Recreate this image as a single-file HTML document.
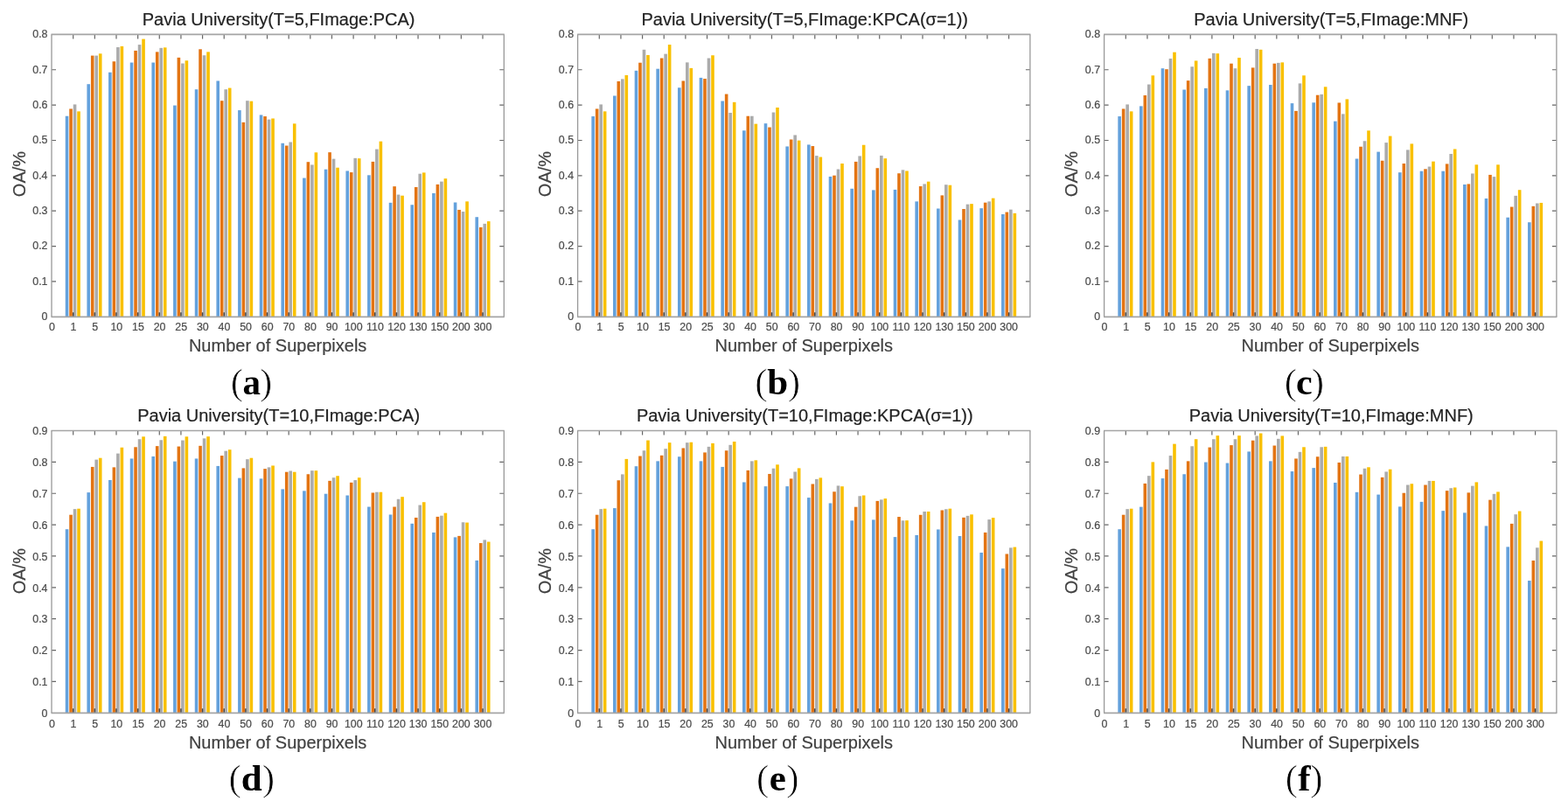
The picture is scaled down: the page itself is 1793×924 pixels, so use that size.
<!DOCTYPE html>
<html><head><meta charset="utf-8"><title>Pavia University OA charts</title><style>html,body{margin:0;padding:0;background:#fff;}svg{display:block;}</style></head><body>
<svg width="1793" height="924" viewBox="0 0 1793 924" font-family="Liberation Sans, Arial, sans-serif">
<rect width="1793" height="924" fill="#fff"/>
<rect x="74.75" y="132.73" width="3.6" height="229.57" fill="#64a1dc"/>
<rect x="79.25" y="124.45" width="3.6" height="237.85" fill="#e37413"/>
<rect x="83.75" y="119.42" width="3.6" height="242.88" fill="#ababab"/>
<rect x="88.25" y="127.37" width="3.6" height="234.93" fill="#f9c000"/>
<rect x="99.42" y="96.21" width="3.6" height="266.09" fill="#64a1dc"/>
<rect x="103.92" y="63.59" width="3.6" height="298.71" fill="#e37413"/>
<rect x="108.42" y="63.59" width="3.6" height="298.71" fill="#ababab"/>
<rect x="112.92" y="61.32" width="3.6" height="300.98" fill="#f9c000"/>
<rect x="124.08" y="82.74" width="3.6" height="279.56" fill="#64a1dc"/>
<rect x="128.58" y="70.25" width="3.6" height="292.05" fill="#e37413"/>
<rect x="133.08" y="54.02" width="3.6" height="308.28" fill="#ababab"/>
<rect x="137.58" y="52.88" width="3.6" height="309.42" fill="#f9c000"/>
<rect x="148.75" y="71.54" width="3.6" height="290.76" fill="#64a1dc"/>
<rect x="153.25" y="57.91" width="3.6" height="304.39" fill="#e37413"/>
<rect x="157.75" y="51.10" width="3.6" height="311.20" fill="#ababab"/>
<rect x="162.25" y="44.61" width="3.6" height="317.69" fill="#f9c000"/>
<rect x="173.42" y="71.54" width="3.6" height="290.76" fill="#64a1dc"/>
<rect x="177.92" y="59.37" width="3.6" height="302.93" fill="#e37413"/>
<rect x="182.42" y="54.83" width="3.6" height="307.47" fill="#ababab"/>
<rect x="186.92" y="54.34" width="3.6" height="307.96" fill="#f9c000"/>
<rect x="198.09" y="120.56" width="3.6" height="241.74" fill="#64a1dc"/>
<rect x="202.59" y="65.86" width="3.6" height="296.44" fill="#e37413"/>
<rect x="207.09" y="72.52" width="3.6" height="289.78" fill="#ababab"/>
<rect x="211.59" y="69.27" width="3.6" height="293.03" fill="#f9c000"/>
<rect x="222.76" y="102.22" width="3.6" height="260.08" fill="#64a1dc"/>
<rect x="227.26" y="56.29" width="3.6" height="306.01" fill="#e37413"/>
<rect x="231.76" y="63.27" width="3.6" height="299.03" fill="#ababab"/>
<rect x="236.26" y="59.37" width="3.6" height="302.93" fill="#f9c000"/>
<rect x="247.42" y="92.48" width="3.6" height="269.82" fill="#64a1dc"/>
<rect x="251.92" y="115.20" width="3.6" height="247.10" fill="#e37413"/>
<rect x="256.42" y="102.22" width="3.6" height="260.08" fill="#ababab"/>
<rect x="260.92" y="100.59" width="3.6" height="261.71" fill="#f9c000"/>
<rect x="272.09" y="126.07" width="3.6" height="236.23" fill="#64a1dc"/>
<rect x="276.59" y="139.87" width="3.6" height="222.43" fill="#e37413"/>
<rect x="281.09" y="115.20" width="3.6" height="247.10" fill="#ababab"/>
<rect x="285.59" y="115.69" width="3.6" height="246.61" fill="#f9c000"/>
<rect x="296.76" y="131.43" width="3.6" height="230.87" fill="#64a1dc"/>
<rect x="301.26" y="133.05" width="3.6" height="229.25" fill="#e37413"/>
<rect x="305.76" y="136.62" width="3.6" height="225.68" fill="#ababab"/>
<rect x="310.26" y="135.49" width="3.6" height="226.81" fill="#f9c000"/>
<rect x="321.43" y="163.78" width="3.6" height="198.52" fill="#64a1dc"/>
<rect x="325.93" y="166.54" width="3.6" height="195.76" fill="#e37413"/>
<rect x="330.43" y="162.48" width="3.6" height="199.82" fill="#ababab"/>
<rect x="334.93" y="141.37" width="3.6" height="220.93" fill="#f9c000"/>
<rect x="346.10" y="203.56" width="3.6" height="158.74" fill="#64a1dc"/>
<rect x="350.60" y="185.21" width="3.6" height="177.09" fill="#e37413"/>
<rect x="355.10" y="188.46" width="3.6" height="173.84" fill="#ababab"/>
<rect x="359.60" y="174.33" width="3.6" height="187.97" fill="#f9c000"/>
<rect x="370.76" y="193.66" width="3.6" height="168.64" fill="#64a1dc"/>
<rect x="375.26" y="174.17" width="3.6" height="188.13" fill="#e37413"/>
<rect x="379.76" y="181.64" width="3.6" height="180.66" fill="#ababab"/>
<rect x="384.26" y="191.71" width="3.6" height="170.59" fill="#f9c000"/>
<rect x="395.43" y="195.44" width="3.6" height="166.86" fill="#64a1dc"/>
<rect x="399.93" y="197.07" width="3.6" height="165.23" fill="#e37413"/>
<rect x="404.43" y="180.83" width="3.6" height="181.47" fill="#ababab"/>
<rect x="408.93" y="181.15" width="3.6" height="181.15" fill="#f9c000"/>
<rect x="420.10" y="200.32" width="3.6" height="161.98" fill="#64a1dc"/>
<rect x="424.60" y="184.89" width="3.6" height="177.41" fill="#e37413"/>
<rect x="429.10" y="170.60" width="3.6" height="191.70" fill="#ababab"/>
<rect x="433.60" y="161.67" width="3.6" height="200.63" fill="#f9c000"/>
<rect x="444.77" y="231.82" width="3.6" height="130.48" fill="#64a1dc"/>
<rect x="449.27" y="213.14" width="3.6" height="149.16" fill="#e37413"/>
<rect x="453.77" y="222.56" width="3.6" height="139.74" fill="#ababab"/>
<rect x="458.27" y="223.70" width="3.6" height="138.60" fill="#f9c000"/>
<rect x="469.44" y="234.25" width="3.6" height="128.05" fill="#64a1dc"/>
<rect x="473.94" y="213.96" width="3.6" height="148.34" fill="#e37413"/>
<rect x="478.44" y="198.69" width="3.6" height="163.61" fill="#ababab"/>
<rect x="482.94" y="197.39" width="3.6" height="164.91" fill="#f9c000"/>
<rect x="494.10" y="220.94" width="3.6" height="141.36" fill="#64a1dc"/>
<rect x="498.60" y="210.87" width="3.6" height="151.43" fill="#e37413"/>
<rect x="503.10" y="207.62" width="3.6" height="154.68" fill="#ababab"/>
<rect x="507.60" y="204.21" width="3.6" height="158.09" fill="#f9c000"/>
<rect x="518.77" y="231.49" width="3.6" height="130.81" fill="#64a1dc"/>
<rect x="523.27" y="239.94" width="3.6" height="122.36" fill="#e37413"/>
<rect x="527.77" y="242.05" width="3.6" height="120.25" fill="#ababab"/>
<rect x="532.27" y="230.36" width="3.6" height="131.94" fill="#f9c000"/>
<rect x="543.44" y="248.22" width="3.6" height="114.08" fill="#64a1dc"/>
<rect x="547.94" y="259.91" width="3.6" height="102.39" fill="#e37413"/>
<rect x="552.44" y="255.85" width="3.6" height="106.45" fill="#ababab"/>
<rect x="556.94" y="253.09" width="3.6" height="109.21" fill="#f9c000"/>
<path d="M83.70 39.4v5M108.34 39.4v5M132.99 39.4v5M157.64 39.4v5M182.28 39.4v5M206.93 39.4v5M231.58 39.4v5M256.23 39.4v5M280.87 39.4v5M305.52 39.4v5M330.17 39.4v5M354.81 39.4v5M379.46 39.4v5M404.11 39.4v5M428.75 39.4v5M453.40 39.4v5M478.05 39.4v5M502.70 39.4v5M527.34 39.4v5M551.99 39.4v5M59.0 321.94h5M576.3 321.94h-5M59.0 281.57h5M576.3 281.57h-5M59.0 241.21h5M576.3 241.21h-5M59.0 200.85h5M576.3 200.85h-5M59.0 160.49h5M576.3 160.49h-5M59.0 120.12h5M576.3 120.12h-5M59.0 79.76h5M576.3 79.76h-5" stroke="#666666" stroke-width="1.2" fill="none"/>
<path d="M83.70 362.3v-5M108.34 362.3v-5M132.99 362.3v-5M157.64 362.3v-5M182.28 362.3v-5M206.93 362.3v-5M231.58 362.3v-5M256.23 362.3v-5M280.87 362.3v-5M305.52 362.3v-5M330.17 362.3v-5M354.81 362.3v-5M379.46 362.3v-5M404.11 362.3v-5M428.75 362.3v-5M453.40 362.3v-5M478.05 362.3v-5M502.70 362.3v-5M527.34 362.3v-5M551.99 362.3v-5" stroke="#484848" stroke-width="1.5" fill="none"/>
<path d="M58.5 39.4H576.8M58.5 362.3H576.8" stroke="#a5a5a5" stroke-width="1.7" fill="none"/>
<path d="M59.0 39.4V362.3M576.30 39.4V362.3" stroke="#999999" stroke-width="1.3" fill="none"/>
<g font-size="12.4" fill="#4a4a4a" stroke="#4a4a4a" stroke-width="0.2"><text x="59.40" y="378.30" text-anchor="middle">0</text><text x="84.03" y="378.30" text-anchor="middle">1</text><text x="108.67" y="378.30" text-anchor="middle">5</text><text x="133.30" y="378.30" text-anchor="middle">10</text><text x="157.93" y="378.30" text-anchor="middle">15</text><text x="182.57" y="378.30" text-anchor="middle">20</text><text x="207.20" y="378.30" text-anchor="middle">25</text><text x="231.83" y="378.30" text-anchor="middle">30</text><text x="256.47" y="378.30" text-anchor="middle">40</text><text x="281.10" y="378.30" text-anchor="middle">50</text><text x="305.73" y="378.30" text-anchor="middle">60</text><text x="330.37" y="378.30" text-anchor="middle">70</text><text x="355.00" y="378.30" text-anchor="middle">80</text><text x="379.63" y="378.30" text-anchor="middle">90</text><text x="404.27" y="378.30" text-anchor="middle">100</text><text x="428.90" y="378.30" text-anchor="middle">110</text><text x="453.53" y="378.30" text-anchor="middle">120</text><text x="478.17" y="378.30" text-anchor="middle">130</text><text x="502.80" y="378.30" text-anchor="middle">150</text><text x="527.43" y="378.30" text-anchor="middle">200</text><text x="552.07" y="378.30" text-anchor="middle">300</text><text x="54.50" y="366.20" text-anchor="end">0</text><text x="54.50" y="325.84" text-anchor="end">0.1</text><text x="54.50" y="285.47" text-anchor="end">0.2</text><text x="54.50" y="245.11" text-anchor="end">0.3</text><text x="54.50" y="204.75" text-anchor="end">0.4</text><text x="54.50" y="164.39" text-anchor="end">0.5</text><text x="54.50" y="124.03" text-anchor="end">0.6</text><text x="54.50" y="83.66" text-anchor="end">0.7</text><text x="54.50" y="43.30" text-anchor="end">0.8</text></g>
<text x="318.65" y="28.90" text-anchor="middle" font-size="20" fill="#222" stroke="#222" stroke-width="0.2">Pavia University(T=5,FImage:PCA)</text>
<text x="317.65" y="402.20" text-anchor="middle" font-size="20" fill="#404040" stroke="#404040" stroke-width="0.2">Number of Superpixels</text>
<text transform="translate(28.80 199.00) rotate(-90)" text-anchor="middle" font-size="20" fill="#404040" stroke="#404040" stroke-width="0.2">OA/%</text>
<g fill="#000"><text x="263.78" y="451.30" font-family="Liberation Serif, serif" font-size="43" stroke="#fff" stroke-width="0.7">(</text><text x="287.70" y="450.70" text-anchor="middle" font-family="Liberation Serif, serif" font-weight="bold" font-size="41">a</text><text x="297.03" y="451.30" font-family="Liberation Serif, serif" font-size="43" stroke="#fff" stroke-width="0.7">)</text></g>
<rect x="676.35" y="133.05" width="3.6" height="229.25" fill="#64a1dc"/>
<rect x="680.85" y="124.45" width="3.6" height="237.85" fill="#e37413"/>
<rect x="685.35" y="119.42" width="3.6" height="242.88" fill="#ababab"/>
<rect x="689.85" y="127.37" width="3.6" height="234.93" fill="#f9c000"/>
<rect x="701.02" y="109.52" width="3.6" height="252.78" fill="#64a1dc"/>
<rect x="705.52" y="92.97" width="3.6" height="269.33" fill="#e37413"/>
<rect x="710.02" y="90.37" width="3.6" height="271.93" fill="#ababab"/>
<rect x="714.52" y="85.99" width="3.6" height="276.31" fill="#f9c000"/>
<rect x="725.68" y="80.80" width="3.6" height="281.50" fill="#64a1dc"/>
<rect x="730.18" y="71.71" width="3.6" height="290.59" fill="#e37413"/>
<rect x="734.68" y="56.78" width="3.6" height="305.52" fill="#ababab"/>
<rect x="739.18" y="62.94" width="3.6" height="299.36" fill="#f9c000"/>
<rect x="750.35" y="78.69" width="3.6" height="283.61" fill="#64a1dc"/>
<rect x="754.85" y="66.51" width="3.6" height="295.79" fill="#e37413"/>
<rect x="759.35" y="61.65" width="3.6" height="300.65" fill="#ababab"/>
<rect x="763.85" y="51.10" width="3.6" height="311.20" fill="#f9c000"/>
<rect x="775.02" y="100.27" width="3.6" height="262.03" fill="#64a1dc"/>
<rect x="779.52" y="92.48" width="3.6" height="269.82" fill="#e37413"/>
<rect x="784.02" y="71.38" width="3.6" height="290.92" fill="#ababab"/>
<rect x="788.52" y="77.87" width="3.6" height="284.43" fill="#f9c000"/>
<rect x="799.69" y="88.91" width="3.6" height="273.39" fill="#64a1dc"/>
<rect x="804.19" y="90.05" width="3.6" height="272.25" fill="#e37413"/>
<rect x="808.69" y="66.51" width="3.6" height="295.79" fill="#ababab"/>
<rect x="813.19" y="63.27" width="3.6" height="299.03" fill="#f9c000"/>
<rect x="824.36" y="115.52" width="3.6" height="246.78" fill="#64a1dc"/>
<rect x="828.86" y="107.57" width="3.6" height="254.73" fill="#e37413"/>
<rect x="833.36" y="128.99" width="3.6" height="233.31" fill="#ababab"/>
<rect x="837.86" y="116.82" width="3.6" height="245.48" fill="#f9c000"/>
<rect x="849.02" y="149.28" width="3.6" height="213.02" fill="#64a1dc"/>
<rect x="853.52" y="132.73" width="3.6" height="229.57" fill="#e37413"/>
<rect x="858.02" y="132.73" width="3.6" height="229.57" fill="#ababab"/>
<rect x="862.52" y="141.65" width="3.6" height="220.65" fill="#f9c000"/>
<rect x="873.69" y="141.17" width="3.6" height="221.13" fill="#64a1dc"/>
<rect x="878.19" y="145.55" width="3.6" height="216.75" fill="#e37413"/>
<rect x="882.69" y="128.51" width="3.6" height="233.79" fill="#ababab"/>
<rect x="887.19" y="122.99" width="3.6" height="239.31" fill="#f9c000"/>
<rect x="898.36" y="167.46" width="3.6" height="194.84" fill="#64a1dc"/>
<rect x="902.86" y="159.50" width="3.6" height="202.80" fill="#e37413"/>
<rect x="907.36" y="154.47" width="3.6" height="207.83" fill="#ababab"/>
<rect x="911.86" y="160.64" width="3.6" height="201.66" fill="#f9c000"/>
<rect x="923.03" y="165.43" width="3.6" height="196.87" fill="#64a1dc"/>
<rect x="927.53" y="167.05" width="3.6" height="195.25" fill="#e37413"/>
<rect x="932.03" y="178.09" width="3.6" height="184.21" fill="#ababab"/>
<rect x="936.53" y="179.56" width="3.6" height="182.74" fill="#f9c000"/>
<rect x="947.70" y="201.96" width="3.6" height="160.34" fill="#64a1dc"/>
<rect x="952.20" y="200.67" width="3.6" height="161.63" fill="#e37413"/>
<rect x="956.70" y="193.52" width="3.6" height="168.78" fill="#ababab"/>
<rect x="961.20" y="187.03" width="3.6" height="175.27" fill="#f9c000"/>
<rect x="972.36" y="215.77" width="3.6" height="146.53" fill="#64a1dc"/>
<rect x="976.86" y="184.91" width="3.6" height="177.39" fill="#e37413"/>
<rect x="981.36" y="178.42" width="3.6" height="183.88" fill="#ababab"/>
<rect x="985.86" y="165.75" width="3.6" height="196.55" fill="#f9c000"/>
<rect x="997.03" y="217.39" width="3.6" height="144.91" fill="#64a1dc"/>
<rect x="1001.53" y="192.22" width="3.6" height="170.08" fill="#e37413"/>
<rect x="1006.03" y="177.93" width="3.6" height="184.37" fill="#ababab"/>
<rect x="1010.53" y="181.18" width="3.6" height="181.12" fill="#f9c000"/>
<rect x="1021.70" y="216.90" width="3.6" height="145.40" fill="#64a1dc"/>
<rect x="1026.20" y="198.23" width="3.6" height="164.07" fill="#e37413"/>
<rect x="1030.70" y="194.33" width="3.6" height="167.97" fill="#ababab"/>
<rect x="1035.20" y="195.47" width="3.6" height="166.83" fill="#f9c000"/>
<rect x="1046.37" y="230.38" width="3.6" height="131.92" fill="#64a1dc"/>
<rect x="1050.87" y="213.01" width="3.6" height="149.29" fill="#e37413"/>
<rect x="1055.37" y="210.41" width="3.6" height="151.89" fill="#ababab"/>
<rect x="1059.87" y="207.65" width="3.6" height="154.65" fill="#f9c000"/>
<rect x="1071.04" y="238.50" width="3.6" height="123.80" fill="#64a1dc"/>
<rect x="1075.54" y="223.40" width="3.6" height="138.90" fill="#e37413"/>
<rect x="1080.04" y="211.22" width="3.6" height="151.08" fill="#ababab"/>
<rect x="1084.54" y="211.71" width="3.6" height="150.59" fill="#f9c000"/>
<rect x="1095.70" y="251.49" width="3.6" height="110.81" fill="#64a1dc"/>
<rect x="1100.20" y="238.99" width="3.6" height="123.31" fill="#e37413"/>
<rect x="1104.70" y="233.63" width="3.6" height="128.67" fill="#ababab"/>
<rect x="1109.20" y="233.14" width="3.6" height="129.16" fill="#f9c000"/>
<rect x="1120.37" y="238.18" width="3.6" height="124.12" fill="#64a1dc"/>
<rect x="1124.87" y="231.68" width="3.6" height="130.62" fill="#e37413"/>
<rect x="1129.37" y="230.38" width="3.6" height="131.92" fill="#ababab"/>
<rect x="1133.87" y="226.65" width="3.6" height="135.65" fill="#f9c000"/>
<rect x="1145.04" y="245.00" width="3.6" height="117.30" fill="#64a1dc"/>
<rect x="1149.54" y="242.56" width="3.6" height="119.74" fill="#e37413"/>
<rect x="1154.04" y="239.64" width="3.6" height="122.66" fill="#ababab"/>
<rect x="1158.54" y="243.86" width="3.6" height="118.44" fill="#f9c000"/>
<path d="M685.30 39.4v5M709.94 39.4v5M734.59 39.4v5M759.24 39.4v5M783.88 39.4v5M808.53 39.4v5M833.18 39.4v5M857.83 39.4v5M882.47 39.4v5M907.12 39.4v5M931.77 39.4v5M956.41 39.4v5M981.06 39.4v5M1005.71 39.4v5M1030.36 39.4v5M1055.00 39.4v5M1079.65 39.4v5M1104.30 39.4v5M1128.94 39.4v5M1153.59 39.4v5M660.6 321.94h5M1177.9 321.94h-5M660.6 281.57h5M1177.9 281.57h-5M660.6 241.21h5M1177.9 241.21h-5M660.6 200.85h5M1177.9 200.85h-5M660.6 160.49h5M1177.9 160.49h-5M660.6 120.12h5M1177.9 120.12h-5M660.6 79.76h5M1177.9 79.76h-5" stroke="#666666" stroke-width="1.2" fill="none"/>
<path d="M685.30 362.3v-5M709.94 362.3v-5M734.59 362.3v-5M759.24 362.3v-5M783.88 362.3v-5M808.53 362.3v-5M833.18 362.3v-5M857.83 362.3v-5M882.47 362.3v-5M907.12 362.3v-5M931.77 362.3v-5M956.41 362.3v-5M981.06 362.3v-5M1005.71 362.3v-5M1030.36 362.3v-5M1055.00 362.3v-5M1079.65 362.3v-5M1104.30 362.3v-5M1128.94 362.3v-5M1153.59 362.3v-5" stroke="#484848" stroke-width="1.5" fill="none"/>
<path d="M660.1 39.4H1178.4M660.1 362.3H1178.4" stroke="#a5a5a5" stroke-width="1.7" fill="none"/>
<path d="M660.6 39.4V362.3M1177.90 39.4V362.3" stroke="#999999" stroke-width="1.3" fill="none"/>
<g font-size="12.4" fill="#4a4a4a" stroke="#4a4a4a" stroke-width="0.2"><text x="661.00" y="378.30" text-anchor="middle">0</text><text x="685.63" y="378.30" text-anchor="middle">1</text><text x="710.27" y="378.30" text-anchor="middle">5</text><text x="734.90" y="378.30" text-anchor="middle">10</text><text x="759.53" y="378.30" text-anchor="middle">15</text><text x="784.17" y="378.30" text-anchor="middle">20</text><text x="808.80" y="378.30" text-anchor="middle">25</text><text x="833.43" y="378.30" text-anchor="middle">30</text><text x="858.07" y="378.30" text-anchor="middle">40</text><text x="882.70" y="378.30" text-anchor="middle">50</text><text x="907.33" y="378.30" text-anchor="middle">60</text><text x="931.97" y="378.30" text-anchor="middle">70</text><text x="956.60" y="378.30" text-anchor="middle">80</text><text x="981.23" y="378.30" text-anchor="middle">90</text><text x="1005.87" y="378.30" text-anchor="middle">100</text><text x="1030.50" y="378.30" text-anchor="middle">110</text><text x="1055.13" y="378.30" text-anchor="middle">120</text><text x="1079.77" y="378.30" text-anchor="middle">130</text><text x="1104.40" y="378.30" text-anchor="middle">150</text><text x="1129.03" y="378.30" text-anchor="middle">200</text><text x="1153.67" y="378.30" text-anchor="middle">300</text><text x="656.10" y="366.20" text-anchor="end">0</text><text x="656.10" y="325.84" text-anchor="end">0.1</text><text x="656.10" y="285.47" text-anchor="end">0.2</text><text x="656.10" y="245.11" text-anchor="end">0.3</text><text x="656.10" y="204.75" text-anchor="end">0.4</text><text x="656.10" y="164.39" text-anchor="end">0.5</text><text x="656.10" y="124.03" text-anchor="end">0.6</text><text x="656.10" y="83.66" text-anchor="end">0.7</text><text x="656.10" y="43.30" text-anchor="end">0.8</text></g>
<text x="920.25" y="28.90" text-anchor="middle" font-size="20" fill="#222" stroke="#222" stroke-width="0.2">Pavia University(T=5,FImage:KPCA(σ=1))</text>
<text x="919.25" y="402.20" text-anchor="middle" font-size="20" fill="#404040" stroke="#404040" stroke-width="0.2">Number of Superpixels</text>
<text transform="translate(630.40 199.00) rotate(-90)" text-anchor="middle" font-size="20" fill="#404040" stroke="#404040" stroke-width="0.2">OA/%</text>
<g fill="#000"><text x="863.18" y="451.30" font-family="Liberation Serif, serif" font-size="43" stroke="#fff" stroke-width="0.7">(</text><text x="889.30" y="450.70" text-anchor="middle" font-family="Liberation Serif, serif" font-weight="bold" font-size="43">b</text><text x="900.83" y="451.30" font-family="Liberation Serif, serif" font-size="43" stroke="#fff" stroke-width="0.7">)</text></g>
<rect x="1278.35" y="133.05" width="3.6" height="229.25" fill="#64a1dc"/>
<rect x="1282.85" y="124.45" width="3.6" height="237.85" fill="#e37413"/>
<rect x="1287.35" y="119.42" width="3.6" height="242.88" fill="#ababab"/>
<rect x="1291.85" y="127.37" width="3.6" height="234.93" fill="#f9c000"/>
<rect x="1303.02" y="121.37" width="3.6" height="240.93" fill="#64a1dc"/>
<rect x="1307.52" y="109.03" width="3.6" height="253.27" fill="#e37413"/>
<rect x="1312.02" y="96.54" width="3.6" height="265.76" fill="#ababab"/>
<rect x="1316.52" y="86.31" width="3.6" height="275.99" fill="#f9c000"/>
<rect x="1327.68" y="78.20" width="3.6" height="284.10" fill="#64a1dc"/>
<rect x="1332.18" y="79.17" width="3.6" height="283.13" fill="#e37413"/>
<rect x="1336.68" y="67.00" width="3.6" height="295.30" fill="#ababab"/>
<rect x="1341.18" y="59.70" width="3.6" height="302.60" fill="#f9c000"/>
<rect x="1352.35" y="102.54" width="3.6" height="259.76" fill="#64a1dc"/>
<rect x="1356.85" y="92.16" width="3.6" height="270.14" fill="#e37413"/>
<rect x="1361.35" y="76.25" width="3.6" height="286.05" fill="#ababab"/>
<rect x="1365.85" y="69.44" width="3.6" height="292.86" fill="#f9c000"/>
<rect x="1377.02" y="100.92" width="3.6" height="261.38" fill="#64a1dc"/>
<rect x="1381.52" y="66.84" width="3.6" height="295.46" fill="#e37413"/>
<rect x="1386.02" y="60.83" width="3.6" height="301.47" fill="#ababab"/>
<rect x="1390.52" y="61.16" width="3.6" height="301.14" fill="#f9c000"/>
<rect x="1401.69" y="103.35" width="3.6" height="258.95" fill="#64a1dc"/>
<rect x="1406.19" y="72.68" width="3.6" height="289.62" fill="#e37413"/>
<rect x="1410.69" y="78.20" width="3.6" height="284.10" fill="#ababab"/>
<rect x="1415.19" y="66.03" width="3.6" height="296.27" fill="#f9c000"/>
<rect x="1426.36" y="98.16" width="3.6" height="264.14" fill="#64a1dc"/>
<rect x="1430.86" y="77.39" width="3.6" height="284.91" fill="#e37413"/>
<rect x="1435.36" y="55.97" width="3.6" height="306.33" fill="#ababab"/>
<rect x="1439.86" y="56.78" width="3.6" height="305.52" fill="#f9c000"/>
<rect x="1451.02" y="97.02" width="3.6" height="265.28" fill="#64a1dc"/>
<rect x="1455.52" y="72.68" width="3.6" height="289.62" fill="#e37413"/>
<rect x="1460.02" y="71.87" width="3.6" height="290.43" fill="#ababab"/>
<rect x="1464.52" y="71.38" width="3.6" height="290.92" fill="#f9c000"/>
<rect x="1475.69" y="118.12" width="3.6" height="244.18" fill="#64a1dc"/>
<rect x="1480.19" y="126.88" width="3.6" height="235.42" fill="#e37413"/>
<rect x="1484.69" y="95.40" width="3.6" height="266.90" fill="#ababab"/>
<rect x="1489.19" y="86.31" width="3.6" height="275.99" fill="#f9c000"/>
<rect x="1500.36" y="117.31" width="3.6" height="244.99" fill="#64a1dc"/>
<rect x="1504.86" y="108.71" width="3.6" height="253.59" fill="#e37413"/>
<rect x="1509.36" y="107.90" width="3.6" height="254.40" fill="#ababab"/>
<rect x="1513.86" y="99.30" width="3.6" height="263.00" fill="#f9c000"/>
<rect x="1525.03" y="138.65" width="3.6" height="223.65" fill="#64a1dc"/>
<rect x="1529.53" y="117.48" width="3.6" height="244.82" fill="#e37413"/>
<rect x="1534.03" y="130.36" width="3.6" height="231.94" fill="#ababab"/>
<rect x="1538.53" y="113.43" width="3.6" height="248.87" fill="#f9c000"/>
<rect x="1549.70" y="181.52" width="3.6" height="180.78" fill="#64a1dc"/>
<rect x="1554.20" y="167.72" width="3.6" height="194.58" fill="#e37413"/>
<rect x="1558.70" y="161.28" width="3.6" height="201.02" fill="#ababab"/>
<rect x="1563.20" y="149.32" width="3.6" height="212.98" fill="#f9c000"/>
<rect x="1574.36" y="173.61" width="3.6" height="188.69" fill="#64a1dc"/>
<rect x="1578.86" y="183.73" width="3.6" height="178.57" fill="#e37413"/>
<rect x="1583.36" y="163.12" width="3.6" height="199.18" fill="#ababab"/>
<rect x="1587.86" y="155.58" width="3.6" height="206.72" fill="#f9c000"/>
<rect x="1599.03" y="197.17" width="3.6" height="165.13" fill="#64a1dc"/>
<rect x="1603.53" y="187.04" width="3.6" height="175.26" fill="#e37413"/>
<rect x="1608.03" y="171.40" width="3.6" height="190.90" fill="#ababab"/>
<rect x="1612.53" y="164.41" width="3.6" height="197.89" fill="#f9c000"/>
<rect x="1623.70" y="195.69" width="3.6" height="166.61" fill="#64a1dc"/>
<rect x="1628.20" y="193.30" width="3.6" height="169.00" fill="#e37413"/>
<rect x="1632.70" y="190.54" width="3.6" height="171.76" fill="#ababab"/>
<rect x="1637.20" y="184.65" width="3.6" height="177.65" fill="#f9c000"/>
<rect x="1648.37" y="195.69" width="3.6" height="166.61" fill="#64a1dc"/>
<rect x="1652.87" y="187.41" width="3.6" height="174.89" fill="#e37413"/>
<rect x="1657.37" y="176.00" width="3.6" height="186.30" fill="#ababab"/>
<rect x="1661.87" y="170.48" width="3.6" height="191.82" fill="#f9c000"/>
<rect x="1673.04" y="210.97" width="3.6" height="151.33" fill="#64a1dc"/>
<rect x="1677.54" y="210.42" width="3.6" height="151.88" fill="#e37413"/>
<rect x="1682.04" y="198.45" width="3.6" height="163.85" fill="#ababab"/>
<rect x="1686.54" y="188.33" width="3.6" height="173.97" fill="#f9c000"/>
<rect x="1697.70" y="226.98" width="3.6" height="135.32" fill="#64a1dc"/>
<rect x="1702.20" y="199.93" width="3.6" height="162.37" fill="#e37413"/>
<rect x="1706.70" y="202.13" width="3.6" height="160.17" fill="#ababab"/>
<rect x="1711.20" y="188.33" width="3.6" height="173.97" fill="#f9c000"/>
<rect x="1722.37" y="248.69" width="3.6" height="113.61" fill="#64a1dc"/>
<rect x="1726.87" y="236.55" width="3.6" height="125.75" fill="#e37413"/>
<rect x="1731.37" y="223.85" width="3.6" height="138.45" fill="#ababab"/>
<rect x="1735.87" y="217.22" width="3.6" height="145.08" fill="#f9c000"/>
<rect x="1747.04" y="254.21" width="3.6" height="108.09" fill="#64a1dc"/>
<rect x="1751.54" y="235.81" width="3.6" height="126.49" fill="#e37413"/>
<rect x="1756.04" y="232.50" width="3.6" height="129.80" fill="#ababab"/>
<rect x="1760.54" y="231.95" width="3.6" height="130.35" fill="#f9c000"/>
<path d="M1287.30 39.4v5M1311.94 39.4v5M1336.59 39.4v5M1361.24 39.4v5M1385.88 39.4v5M1410.53 39.4v5M1435.18 39.4v5M1459.83 39.4v5M1484.47 39.4v5M1509.12 39.4v5M1533.77 39.4v5M1558.41 39.4v5M1583.06 39.4v5M1607.71 39.4v5M1632.35 39.4v5M1657.00 39.4v5M1681.65 39.4v5M1706.30 39.4v5M1730.94 39.4v5M1755.59 39.4v5M1262.6 321.94h5M1779.8999999999999 321.94h-5M1262.6 281.57h5M1779.8999999999999 281.57h-5M1262.6 241.21h5M1779.8999999999999 241.21h-5M1262.6 200.85h5M1779.8999999999999 200.85h-5M1262.6 160.49h5M1779.8999999999999 160.49h-5M1262.6 120.12h5M1779.8999999999999 120.12h-5M1262.6 79.76h5M1779.8999999999999 79.76h-5" stroke="#666666" stroke-width="1.2" fill="none"/>
<path d="M1287.30 362.3v-5M1311.94 362.3v-5M1336.59 362.3v-5M1361.24 362.3v-5M1385.88 362.3v-5M1410.53 362.3v-5M1435.18 362.3v-5M1459.83 362.3v-5M1484.47 362.3v-5M1509.12 362.3v-5M1533.77 362.3v-5M1558.41 362.3v-5M1583.06 362.3v-5M1607.71 362.3v-5M1632.35 362.3v-5M1657.00 362.3v-5M1681.65 362.3v-5M1706.30 362.3v-5M1730.94 362.3v-5M1755.59 362.3v-5" stroke="#484848" stroke-width="1.5" fill="none"/>
<path d="M1262.1 39.4H1780.3999999999999M1262.1 362.3H1780.3999999999999" stroke="#a5a5a5" stroke-width="1.7" fill="none"/>
<path d="M1262.6 39.4V362.3M1779.90 39.4V362.3" stroke="#999999" stroke-width="1.3" fill="none"/>
<g font-size="12.4" fill="#4a4a4a" stroke="#4a4a4a" stroke-width="0.2"><text x="1263.00" y="378.30" text-anchor="middle">0</text><text x="1287.63" y="378.30" text-anchor="middle">1</text><text x="1312.27" y="378.30" text-anchor="middle">5</text><text x="1336.90" y="378.30" text-anchor="middle">10</text><text x="1361.53" y="378.30" text-anchor="middle">15</text><text x="1386.17" y="378.30" text-anchor="middle">20</text><text x="1410.80" y="378.30" text-anchor="middle">25</text><text x="1435.43" y="378.30" text-anchor="middle">30</text><text x="1460.07" y="378.30" text-anchor="middle">40</text><text x="1484.70" y="378.30" text-anchor="middle">50</text><text x="1509.33" y="378.30" text-anchor="middle">60</text><text x="1533.97" y="378.30" text-anchor="middle">70</text><text x="1558.60" y="378.30" text-anchor="middle">80</text><text x="1583.23" y="378.30" text-anchor="middle">90</text><text x="1607.87" y="378.30" text-anchor="middle">100</text><text x="1632.50" y="378.30" text-anchor="middle">110</text><text x="1657.13" y="378.30" text-anchor="middle">120</text><text x="1681.77" y="378.30" text-anchor="middle">130</text><text x="1706.40" y="378.30" text-anchor="middle">150</text><text x="1731.03" y="378.30" text-anchor="middle">200</text><text x="1755.67" y="378.30" text-anchor="middle">300</text><text x="1258.10" y="366.20" text-anchor="end">0</text><text x="1258.10" y="325.84" text-anchor="end">0.1</text><text x="1258.10" y="285.47" text-anchor="end">0.2</text><text x="1258.10" y="245.11" text-anchor="end">0.3</text><text x="1258.10" y="204.75" text-anchor="end">0.4</text><text x="1258.10" y="164.39" text-anchor="end">0.5</text><text x="1258.10" y="124.03" text-anchor="end">0.6</text><text x="1258.10" y="83.66" text-anchor="end">0.7</text><text x="1258.10" y="43.30" text-anchor="end">0.8</text></g>
<text x="1522.25" y="28.90" text-anchor="middle" font-size="20" fill="#222" stroke="#222" stroke-width="0.2">Pavia University(T=5,FImage:MNF)</text>
<text x="1521.25" y="402.20" text-anchor="middle" font-size="20" fill="#404040" stroke="#404040" stroke-width="0.2">Number of Superpixels</text>
<text transform="translate(1232.40 199.00) rotate(-90)" text-anchor="middle" font-size="20" fill="#404040" stroke="#404040" stroke-width="0.2">OA/%</text>
<g fill="#000"><text x="1468.68" y="451.30" font-family="Liberation Serif, serif" font-size="43" stroke="#fff" stroke-width="0.7">(</text><text x="1491.30" y="450.70" text-anchor="middle" font-family="Liberation Serif, serif" font-weight="bold" font-size="42">c</text><text x="1499.83" y="451.30" font-family="Liberation Serif, serif" font-size="43" stroke="#fff" stroke-width="0.7">)</text></g>
<rect x="74.75" y="605.22" width="3.6" height="210.08" fill="#64a1dc"/>
<rect x="79.25" y="588.71" width="3.6" height="226.59" fill="#e37413"/>
<rect x="83.75" y="582.14" width="3.6" height="233.16" fill="#ababab"/>
<rect x="88.25" y="581.70" width="3.6" height="233.60" fill="#f9c000"/>
<rect x="99.42" y="563.15" width="3.6" height="252.15" fill="#64a1dc"/>
<rect x="103.92" y="533.93" width="3.6" height="281.37" fill="#e37413"/>
<rect x="108.42" y="525.61" width="3.6" height="289.69" fill="#ababab"/>
<rect x="112.92" y="523.71" width="3.6" height="291.59" fill="#f9c000"/>
<rect x="124.08" y="548.98" width="3.6" height="266.32" fill="#64a1dc"/>
<rect x="128.58" y="534.37" width="3.6" height="280.93" fill="#e37413"/>
<rect x="133.08" y="518.60" width="3.6" height="296.70" fill="#ababab"/>
<rect x="137.58" y="511.73" width="3.6" height="303.57" fill="#f9c000"/>
<rect x="148.75" y="524.44" width="3.6" height="290.86" fill="#64a1dc"/>
<rect x="153.25" y="511.29" width="3.6" height="304.01" fill="#e37413"/>
<rect x="157.75" y="502.24" width="3.6" height="313.06" fill="#ababab"/>
<rect x="162.25" y="499.31" width="3.6" height="315.99" fill="#f9c000"/>
<rect x="173.42" y="521.96" width="3.6" height="293.34" fill="#64a1dc"/>
<rect x="177.92" y="510.12" width="3.6" height="305.18" fill="#e37413"/>
<rect x="182.42" y="503.26" width="3.6" height="312.04" fill="#ababab"/>
<rect x="186.92" y="498.88" width="3.6" height="316.42" fill="#f9c000"/>
<rect x="198.09" y="527.65" width="3.6" height="287.65" fill="#64a1dc"/>
<rect x="202.59" y="510.56" width="3.6" height="304.74" fill="#e37413"/>
<rect x="207.09" y="503.55" width="3.6" height="311.75" fill="#ababab"/>
<rect x="211.59" y="499.31" width="3.6" height="315.99" fill="#f9c000"/>
<rect x="222.76" y="524.44" width="3.6" height="290.86" fill="#64a1dc"/>
<rect x="227.26" y="509.83" width="3.6" height="305.47" fill="#e37413"/>
<rect x="231.76" y="501.36" width="3.6" height="313.94" fill="#ababab"/>
<rect x="236.26" y="499.17" width="3.6" height="316.13" fill="#f9c000"/>
<rect x="247.42" y="532.91" width="3.6" height="282.39" fill="#64a1dc"/>
<rect x="251.92" y="521.08" width="3.6" height="294.22" fill="#e37413"/>
<rect x="256.42" y="515.67" width="3.6" height="299.63" fill="#ababab"/>
<rect x="260.92" y="514.21" width="3.6" height="301.09" fill="#f9c000"/>
<rect x="272.09" y="546.64" width="3.6" height="268.66" fill="#64a1dc"/>
<rect x="276.59" y="535.39" width="3.6" height="279.91" fill="#e37413"/>
<rect x="281.09" y="525.17" width="3.6" height="290.13" fill="#ababab"/>
<rect x="285.59" y="523.71" width="3.6" height="291.59" fill="#f9c000"/>
<rect x="296.76" y="547.37" width="3.6" height="267.93" fill="#64a1dc"/>
<rect x="301.26" y="536.12" width="3.6" height="279.18" fill="#e37413"/>
<rect x="305.76" y="534.37" width="3.6" height="280.93" fill="#ababab"/>
<rect x="310.26" y="532.47" width="3.6" height="282.83" fill="#f9c000"/>
<rect x="321.43" y="559.39" width="3.6" height="255.91" fill="#64a1dc"/>
<rect x="325.93" y="539.70" width="3.6" height="275.60" fill="#e37413"/>
<rect x="330.43" y="538.48" width="3.6" height="276.82" fill="#ababab"/>
<rect x="334.93" y="539.70" width="3.6" height="275.60" fill="#f9c000"/>
<rect x="346.10" y="561.36" width="3.6" height="253.94" fill="#64a1dc"/>
<rect x="350.60" y="542.27" width="3.6" height="273.03" fill="#e37413"/>
<rect x="355.10" y="538.18" width="3.6" height="277.12" fill="#ababab"/>
<rect x="359.60" y="538.18" width="3.6" height="277.12" fill="#f9c000"/>
<rect x="370.76" y="564.70" width="3.6" height="250.60" fill="#64a1dc"/>
<rect x="375.26" y="549.85" width="3.6" height="265.45" fill="#e37413"/>
<rect x="379.76" y="546.21" width="3.6" height="269.09" fill="#ababab"/>
<rect x="384.26" y="544.24" width="3.6" height="271.06" fill="#f9c000"/>
<rect x="395.43" y="566.52" width="3.6" height="248.78" fill="#64a1dc"/>
<rect x="399.93" y="551.82" width="3.6" height="263.48" fill="#e37413"/>
<rect x="404.43" y="549.09" width="3.6" height="266.21" fill="#ababab"/>
<rect x="408.93" y="546.21" width="3.6" height="269.09" fill="#f9c000"/>
<rect x="420.10" y="579.55" width="3.6" height="235.75" fill="#64a1dc"/>
<rect x="424.60" y="563.48" width="3.6" height="251.82" fill="#e37413"/>
<rect x="429.10" y="562.73" width="3.6" height="252.57" fill="#ababab"/>
<rect x="433.60" y="562.73" width="3.6" height="252.57" fill="#f9c000"/>
<rect x="444.77" y="588.48" width="3.6" height="226.82" fill="#64a1dc"/>
<rect x="449.27" y="579.55" width="3.6" height="235.75" fill="#e37413"/>
<rect x="453.77" y="570.76" width="3.6" height="244.54" fill="#ababab"/>
<rect x="458.27" y="568.18" width="3.6" height="247.12" fill="#f9c000"/>
<rect x="469.44" y="598.79" width="3.6" height="216.51" fill="#64a1dc"/>
<rect x="473.94" y="591.97" width="3.6" height="223.33" fill="#e37413"/>
<rect x="478.44" y="577.58" width="3.6" height="237.72" fill="#ababab"/>
<rect x="482.94" y="574.24" width="3.6" height="241.06" fill="#f9c000"/>
<rect x="494.10" y="608.94" width="3.6" height="206.36" fill="#64a1dc"/>
<rect x="498.60" y="590.91" width="3.6" height="224.39" fill="#e37413"/>
<rect x="503.10" y="589.70" width="3.6" height="225.60" fill="#ababab"/>
<rect x="507.60" y="586.67" width="3.6" height="228.63" fill="#f9c000"/>
<rect x="518.77" y="614.39" width="3.6" height="200.91" fill="#64a1dc"/>
<rect x="523.27" y="612.88" width="3.6" height="202.42" fill="#e37413"/>
<rect x="527.77" y="597.27" width="3.6" height="218.03" fill="#ababab"/>
<rect x="532.27" y="597.58" width="3.6" height="217.72" fill="#f9c000"/>
<rect x="543.44" y="640.91" width="3.6" height="174.39" fill="#64a1dc"/>
<rect x="547.94" y="621.06" width="3.6" height="194.24" fill="#e37413"/>
<rect x="552.44" y="617.42" width="3.6" height="197.88" fill="#ababab"/>
<rect x="556.94" y="619.55" width="3.6" height="195.75" fill="#f9c000"/>
<path d="M83.70 492.5v5M108.34 492.5v5M132.99 492.5v5M157.64 492.5v5M182.28 492.5v5M206.93 492.5v5M231.58 492.5v5M256.23 492.5v5M280.87 492.5v5M305.52 492.5v5M330.17 492.5v5M354.81 492.5v5M379.46 492.5v5M404.11 492.5v5M428.75 492.5v5M453.40 492.5v5M478.05 492.5v5M502.70 492.5v5M527.34 492.5v5M551.99 492.5v5M59.0 779.43h5M576.3 779.43h-5M59.0 743.57h5M576.3 743.57h-5M59.0 707.70h5M576.3 707.70h-5M59.0 671.83h5M576.3 671.83h-5M59.0 635.97h5M576.3 635.97h-5M59.0 600.10h5M576.3 600.10h-5M59.0 564.23h5M576.3 564.23h-5M59.0 528.37h5M576.3 528.37h-5" stroke="#666666" stroke-width="1.2" fill="none"/>
<path d="M83.70 815.3v-5M108.34 815.3v-5M132.99 815.3v-5M157.64 815.3v-5M182.28 815.3v-5M206.93 815.3v-5M231.58 815.3v-5M256.23 815.3v-5M280.87 815.3v-5M305.52 815.3v-5M330.17 815.3v-5M354.81 815.3v-5M379.46 815.3v-5M404.11 815.3v-5M428.75 815.3v-5M453.40 815.3v-5M478.05 815.3v-5M502.70 815.3v-5M527.34 815.3v-5M551.99 815.3v-5" stroke="#484848" stroke-width="1.5" fill="none"/>
<path d="M58.5 492.5H576.8M58.5 815.3H576.8" stroke="#a5a5a5" stroke-width="1.7" fill="none"/>
<path d="M59.0 492.5V815.3M576.30 492.5V815.3" stroke="#999999" stroke-width="1.3" fill="none"/>
<g font-size="12.4" fill="#4a4a4a" stroke="#4a4a4a" stroke-width="0.2"><text x="59.40" y="831.70" text-anchor="middle">0</text><text x="84.03" y="831.70" text-anchor="middle">1</text><text x="108.67" y="831.70" text-anchor="middle">5</text><text x="133.30" y="831.70" text-anchor="middle">10</text><text x="157.93" y="831.70" text-anchor="middle">15</text><text x="182.57" y="831.70" text-anchor="middle">20</text><text x="207.20" y="831.70" text-anchor="middle">25</text><text x="231.83" y="831.70" text-anchor="middle">30</text><text x="256.47" y="831.70" text-anchor="middle">40</text><text x="281.10" y="831.70" text-anchor="middle">50</text><text x="305.73" y="831.70" text-anchor="middle">60</text><text x="330.37" y="831.70" text-anchor="middle">70</text><text x="355.00" y="831.70" text-anchor="middle">80</text><text x="379.63" y="831.70" text-anchor="middle">90</text><text x="404.27" y="831.70" text-anchor="middle">100</text><text x="428.90" y="831.70" text-anchor="middle">110</text><text x="453.53" y="831.70" text-anchor="middle">120</text><text x="478.17" y="831.70" text-anchor="middle">130</text><text x="502.80" y="831.70" text-anchor="middle">150</text><text x="527.43" y="831.70" text-anchor="middle">200</text><text x="552.07" y="831.70" text-anchor="middle">300</text><text x="54.50" y="820.00" text-anchor="end">0</text><text x="54.50" y="784.13" text-anchor="end">0.1</text><text x="54.50" y="748.27" text-anchor="end">0.2</text><text x="54.50" y="712.40" text-anchor="end">0.3</text><text x="54.50" y="676.53" text-anchor="end">0.4</text><text x="54.50" y="640.67" text-anchor="end">0.5</text><text x="54.50" y="604.80" text-anchor="end">0.6</text><text x="54.50" y="568.93" text-anchor="end">0.7</text><text x="54.50" y="533.07" text-anchor="end">0.8</text><text x="54.50" y="497.20" text-anchor="end">0.9</text></g>
<text x="318.65" y="482.00" text-anchor="middle" font-size="20" fill="#222" stroke="#222" stroke-width="0.2">Pavia University(T=10,FImage:PCA)</text>
<text x="317.65" y="855.70" text-anchor="middle" font-size="20" fill="#404040" stroke="#404040" stroke-width="0.2">Number of Superpixels</text>
<text transform="translate(28.80 653.20) rotate(-90)" text-anchor="middle" font-size="20" fill="#404040" stroke="#404040" stroke-width="0.2">OA/%</text>
<g fill="#000"><text x="261.58" y="904.30" font-family="Liberation Serif, serif" font-size="43" stroke="#fff" stroke-width="0.7">(</text><text x="287.70" y="903.70" text-anchor="middle" font-family="Liberation Serif, serif" font-weight="bold" font-size="43">d</text><text x="299.83" y="904.30" font-family="Liberation Serif, serif" font-size="43" stroke="#fff" stroke-width="0.7">)</text></g>
<rect x="676.35" y="605.22" width="3.6" height="210.08" fill="#64a1dc"/>
<rect x="680.85" y="588.71" width="3.6" height="226.59" fill="#e37413"/>
<rect x="685.35" y="582.14" width="3.6" height="233.16" fill="#ababab"/>
<rect x="689.85" y="581.70" width="3.6" height="233.60" fill="#f9c000"/>
<rect x="701.02" y="581.11" width="3.6" height="234.19" fill="#64a1dc"/>
<rect x="705.52" y="549.27" width="3.6" height="266.03" fill="#e37413"/>
<rect x="710.02" y="542.41" width="3.6" height="272.89" fill="#ababab"/>
<rect x="714.52" y="524.88" width="3.6" height="290.42" fill="#f9c000"/>
<rect x="725.68" y="533.20" width="3.6" height="282.10" fill="#64a1dc"/>
<rect x="730.18" y="521.52" width="3.6" height="293.78" fill="#e37413"/>
<rect x="734.68" y="515.24" width="3.6" height="300.06" fill="#ababab"/>
<rect x="739.18" y="503.55" width="3.6" height="311.75" fill="#f9c000"/>
<rect x="750.35" y="527.36" width="3.6" height="287.94" fill="#64a1dc"/>
<rect x="754.85" y="520.79" width="3.6" height="294.51" fill="#e37413"/>
<rect x="759.35" y="513.19" width="3.6" height="302.11" fill="#ababab"/>
<rect x="763.85" y="506.18" width="3.6" height="309.12" fill="#f9c000"/>
<rect x="775.02" y="522.25" width="3.6" height="293.05" fill="#64a1dc"/>
<rect x="779.52" y="512.46" width="3.6" height="302.84" fill="#e37413"/>
<rect x="784.02" y="506.18" width="3.6" height="309.12" fill="#ababab"/>
<rect x="788.52" y="505.74" width="3.6" height="309.56" fill="#f9c000"/>
<rect x="799.69" y="527.36" width="3.6" height="287.94" fill="#64a1dc"/>
<rect x="804.19" y="517.43" width="3.6" height="297.87" fill="#e37413"/>
<rect x="808.69" y="510.85" width="3.6" height="304.45" fill="#ababab"/>
<rect x="813.19" y="506.91" width="3.6" height="308.39" fill="#f9c000"/>
<rect x="824.36" y="533.93" width="3.6" height="281.37" fill="#64a1dc"/>
<rect x="828.86" y="515.24" width="3.6" height="300.06" fill="#e37413"/>
<rect x="833.36" y="508.81" width="3.6" height="306.49" fill="#ababab"/>
<rect x="837.86" y="505.01" width="3.6" height="310.29" fill="#f9c000"/>
<rect x="849.02" y="551.46" width="3.6" height="263.84" fill="#64a1dc"/>
<rect x="853.52" y="537.88" width="3.6" height="277.42" fill="#e37413"/>
<rect x="858.02" y="527.36" width="3.6" height="287.94" fill="#ababab"/>
<rect x="862.52" y="526.34" width="3.6" height="288.96" fill="#f9c000"/>
<rect x="873.69" y="556.14" width="3.6" height="259.16" fill="#64a1dc"/>
<rect x="878.19" y="541.97" width="3.6" height="273.33" fill="#e37413"/>
<rect x="882.69" y="535.69" width="3.6" height="279.61" fill="#ababab"/>
<rect x="887.19" y="531.30" width="3.6" height="284.00" fill="#f9c000"/>
<rect x="898.36" y="556.14" width="3.6" height="259.16" fill="#64a1dc"/>
<rect x="902.86" y="547.37" width="3.6" height="267.93" fill="#e37413"/>
<rect x="907.36" y="539.48" width="3.6" height="275.82" fill="#ababab"/>
<rect x="911.86" y="535.39" width="3.6" height="279.91" fill="#f9c000"/>
<rect x="923.03" y="569.09" width="3.6" height="246.21" fill="#64a1dc"/>
<rect x="927.53" y="553.48" width="3.6" height="261.82" fill="#e37413"/>
<rect x="932.03" y="547.88" width="3.6" height="267.42" fill="#ababab"/>
<rect x="936.53" y="546.36" width="3.6" height="268.94" fill="#f9c000"/>
<rect x="947.70" y="575.45" width="3.6" height="239.85" fill="#64a1dc"/>
<rect x="952.20" y="562.27" width="3.6" height="253.03" fill="#e37413"/>
<rect x="956.70" y="555.45" width="3.6" height="259.85" fill="#ababab"/>
<rect x="961.20" y="556.21" width="3.6" height="259.09" fill="#f9c000"/>
<rect x="972.36" y="595.30" width="3.6" height="220.00" fill="#64a1dc"/>
<rect x="976.86" y="579.70" width="3.6" height="235.60" fill="#e37413"/>
<rect x="981.36" y="567.27" width="3.6" height="248.03" fill="#ababab"/>
<rect x="985.86" y="566.52" width="3.6" height="248.78" fill="#f9c000"/>
<rect x="997.03" y="594.39" width="3.6" height="220.91" fill="#64a1dc"/>
<rect x="1001.53" y="572.88" width="3.6" height="242.42" fill="#e37413"/>
<rect x="1006.03" y="571.36" width="3.6" height="243.94" fill="#ababab"/>
<rect x="1010.53" y="570.15" width="3.6" height="245.15" fill="#f9c000"/>
<rect x="1021.70" y="614.09" width="3.6" height="201.21" fill="#64a1dc"/>
<rect x="1026.20" y="591.06" width="3.6" height="224.24" fill="#e37413"/>
<rect x="1030.70" y="595.30" width="3.6" height="220.00" fill="#ababab"/>
<rect x="1035.20" y="595.15" width="3.6" height="220.15" fill="#f9c000"/>
<rect x="1046.37" y="611.97" width="3.6" height="203.33" fill="#64a1dc"/>
<rect x="1050.87" y="588.79" width="3.6" height="226.51" fill="#e37413"/>
<rect x="1055.37" y="585.00" width="3.6" height="230.30" fill="#ababab"/>
<rect x="1059.87" y="585.00" width="3.6" height="230.30" fill="#f9c000"/>
<rect x="1071.04" y="605.45" width="3.6" height="209.85" fill="#64a1dc"/>
<rect x="1075.54" y="583.48" width="3.6" height="231.82" fill="#e37413"/>
<rect x="1080.04" y="582.27" width="3.6" height="233.03" fill="#ababab"/>
<rect x="1084.54" y="581.67" width="3.6" height="233.63" fill="#f9c000"/>
<rect x="1095.70" y="613.03" width="3.6" height="202.27" fill="#64a1dc"/>
<rect x="1100.20" y="591.82" width="3.6" height="223.48" fill="#e37413"/>
<rect x="1104.70" y="589.85" width="3.6" height="225.45" fill="#ababab"/>
<rect x="1109.20" y="588.33" width="3.6" height="226.97" fill="#f9c000"/>
<rect x="1120.37" y="631.97" width="3.6" height="183.33" fill="#64a1dc"/>
<rect x="1124.87" y="608.94" width="3.6" height="206.36" fill="#e37413"/>
<rect x="1129.37" y="594.09" width="3.6" height="221.21" fill="#ababab"/>
<rect x="1133.87" y="592.12" width="3.6" height="223.18" fill="#f9c000"/>
<rect x="1145.04" y="650.15" width="3.6" height="165.15" fill="#64a1dc"/>
<rect x="1149.54" y="633.48" width="3.6" height="181.82" fill="#e37413"/>
<rect x="1154.04" y="626.36" width="3.6" height="188.94" fill="#ababab"/>
<rect x="1158.54" y="625.61" width="3.6" height="189.69" fill="#f9c000"/>
<path d="M685.30 492.5v5M709.94 492.5v5M734.59 492.5v5M759.24 492.5v5M783.88 492.5v5M808.53 492.5v5M833.18 492.5v5M857.83 492.5v5M882.47 492.5v5M907.12 492.5v5M931.77 492.5v5M956.41 492.5v5M981.06 492.5v5M1005.71 492.5v5M1030.36 492.5v5M1055.00 492.5v5M1079.65 492.5v5M1104.30 492.5v5M1128.94 492.5v5M1153.59 492.5v5M660.6 779.43h5M1177.9 779.43h-5M660.6 743.57h5M1177.9 743.57h-5M660.6 707.70h5M1177.9 707.70h-5M660.6 671.83h5M1177.9 671.83h-5M660.6 635.97h5M1177.9 635.97h-5M660.6 600.10h5M1177.9 600.10h-5M660.6 564.23h5M1177.9 564.23h-5M660.6 528.37h5M1177.9 528.37h-5" stroke="#666666" stroke-width="1.2" fill="none"/>
<path d="M685.30 815.3v-5M709.94 815.3v-5M734.59 815.3v-5M759.24 815.3v-5M783.88 815.3v-5M808.53 815.3v-5M833.18 815.3v-5M857.83 815.3v-5M882.47 815.3v-5M907.12 815.3v-5M931.77 815.3v-5M956.41 815.3v-5M981.06 815.3v-5M1005.71 815.3v-5M1030.36 815.3v-5M1055.00 815.3v-5M1079.65 815.3v-5M1104.30 815.3v-5M1128.94 815.3v-5M1153.59 815.3v-5" stroke="#484848" stroke-width="1.5" fill="none"/>
<path d="M660.1 492.5H1178.4M660.1 815.3H1178.4" stroke="#a5a5a5" stroke-width="1.7" fill="none"/>
<path d="M660.6 492.5V815.3M1177.90 492.5V815.3" stroke="#999999" stroke-width="1.3" fill="none"/>
<g font-size="12.4" fill="#4a4a4a" stroke="#4a4a4a" stroke-width="0.2"><text x="661.00" y="831.70" text-anchor="middle">0</text><text x="685.63" y="831.70" text-anchor="middle">1</text><text x="710.27" y="831.70" text-anchor="middle">5</text><text x="734.90" y="831.70" text-anchor="middle">10</text><text x="759.53" y="831.70" text-anchor="middle">15</text><text x="784.17" y="831.70" text-anchor="middle">20</text><text x="808.80" y="831.70" text-anchor="middle">25</text><text x="833.43" y="831.70" text-anchor="middle">30</text><text x="858.07" y="831.70" text-anchor="middle">40</text><text x="882.70" y="831.70" text-anchor="middle">50</text><text x="907.33" y="831.70" text-anchor="middle">60</text><text x="931.97" y="831.70" text-anchor="middle">70</text><text x="956.60" y="831.70" text-anchor="middle">80</text><text x="981.23" y="831.70" text-anchor="middle">90</text><text x="1005.87" y="831.70" text-anchor="middle">100</text><text x="1030.50" y="831.70" text-anchor="middle">110</text><text x="1055.13" y="831.70" text-anchor="middle">120</text><text x="1079.77" y="831.70" text-anchor="middle">130</text><text x="1104.40" y="831.70" text-anchor="middle">150</text><text x="1129.03" y="831.70" text-anchor="middle">200</text><text x="1153.67" y="831.70" text-anchor="middle">300</text><text x="656.10" y="820.00" text-anchor="end">0</text><text x="656.10" y="784.13" text-anchor="end">0.1</text><text x="656.10" y="748.27" text-anchor="end">0.2</text><text x="656.10" y="712.40" text-anchor="end">0.3</text><text x="656.10" y="676.53" text-anchor="end">0.4</text><text x="656.10" y="640.67" text-anchor="end">0.5</text><text x="656.10" y="604.80" text-anchor="end">0.6</text><text x="656.10" y="568.93" text-anchor="end">0.7</text><text x="656.10" y="533.07" text-anchor="end">0.8</text><text x="656.10" y="497.20" text-anchor="end">0.9</text></g>
<text x="920.25" y="482.00" text-anchor="middle" font-size="20" fill="#222" stroke="#222" stroke-width="0.2">Pavia University(T=10,FImage:KPCA(σ=1))</text>
<text x="919.25" y="855.70" text-anchor="middle" font-size="20" fill="#404040" stroke="#404040" stroke-width="0.2">Number of Superpixels</text>
<text transform="translate(630.40 653.20) rotate(-90)" text-anchor="middle" font-size="20" fill="#404040" stroke="#404040" stroke-width="0.2">OA/%</text>
<g fill="#000"><text x="864.88" y="904.30" font-family="Liberation Serif, serif" font-size="43" stroke="#fff" stroke-width="0.7">(</text><text x="889.30" y="903.70" text-anchor="middle" font-family="Liberation Serif, serif" font-weight="bold" font-size="43">e</text><text x="899.23" y="904.30" font-family="Liberation Serif, serif" font-size="43" stroke="#fff" stroke-width="0.7">)</text></g>
<rect x="1278.35" y="605.22" width="3.6" height="210.08" fill="#64a1dc"/>
<rect x="1282.85" y="588.71" width="3.6" height="226.59" fill="#e37413"/>
<rect x="1287.35" y="582.14" width="3.6" height="233.16" fill="#ababab"/>
<rect x="1291.85" y="581.70" width="3.6" height="233.60" fill="#f9c000"/>
<rect x="1303.02" y="579.65" width="3.6" height="235.65" fill="#64a1dc"/>
<rect x="1307.52" y="552.92" width="3.6" height="262.38" fill="#e37413"/>
<rect x="1312.02" y="544.16" width="3.6" height="271.14" fill="#ababab"/>
<rect x="1316.52" y="528.38" width="3.6" height="286.92" fill="#f9c000"/>
<rect x="1327.68" y="547.08" width="3.6" height="268.22" fill="#64a1dc"/>
<rect x="1332.18" y="536.86" width="3.6" height="278.44" fill="#e37413"/>
<rect x="1336.68" y="521.08" width="3.6" height="294.22" fill="#ababab"/>
<rect x="1341.18" y="507.64" width="3.6" height="307.66" fill="#f9c000"/>
<rect x="1352.35" y="542.26" width="3.6" height="273.04" fill="#64a1dc"/>
<rect x="1356.85" y="527.36" width="3.6" height="287.94" fill="#e37413"/>
<rect x="1361.35" y="510.27" width="3.6" height="305.03" fill="#ababab"/>
<rect x="1365.85" y="502.24" width="3.6" height="313.06" fill="#f9c000"/>
<rect x="1377.02" y="528.53" width="3.6" height="286.77" fill="#64a1dc"/>
<rect x="1381.52" y="511.58" width="3.6" height="303.72" fill="#e37413"/>
<rect x="1386.02" y="502.24" width="3.6" height="313.06" fill="#ababab"/>
<rect x="1390.52" y="498.15" width="3.6" height="317.15" fill="#f9c000"/>
<rect x="1401.69" y="529.55" width="3.6" height="285.75" fill="#64a1dc"/>
<rect x="1406.19" y="509.10" width="3.6" height="306.20" fill="#e37413"/>
<rect x="1410.69" y="502.24" width="3.6" height="313.06" fill="#ababab"/>
<rect x="1415.19" y="498.15" width="3.6" height="317.15" fill="#f9c000"/>
<rect x="1426.36" y="516.41" width="3.6" height="298.89" fill="#64a1dc"/>
<rect x="1430.86" y="503.70" width="3.6" height="311.60" fill="#e37413"/>
<rect x="1435.36" y="498.44" width="3.6" height="316.86" fill="#ababab"/>
<rect x="1439.86" y="495.52" width="3.6" height="319.78" fill="#f9c000"/>
<rect x="1451.02" y="527.36" width="3.6" height="287.94" fill="#64a1dc"/>
<rect x="1455.52" y="509.54" width="3.6" height="305.76" fill="#e37413"/>
<rect x="1460.02" y="501.80" width="3.6" height="313.50" fill="#ababab"/>
<rect x="1464.52" y="498.44" width="3.6" height="316.86" fill="#f9c000"/>
<rect x="1475.69" y="539.05" width="3.6" height="276.25" fill="#64a1dc"/>
<rect x="1480.19" y="524.44" width="3.6" height="290.86" fill="#e37413"/>
<rect x="1484.69" y="516.84" width="3.6" height="298.46" fill="#ababab"/>
<rect x="1489.19" y="511.29" width="3.6" height="304.01" fill="#f9c000"/>
<rect x="1500.36" y="535.10" width="3.6" height="280.20" fill="#64a1dc"/>
<rect x="1504.86" y="522.25" width="3.6" height="293.05" fill="#e37413"/>
<rect x="1509.36" y="511.29" width="3.6" height="304.01" fill="#ababab"/>
<rect x="1513.86" y="510.85" width="3.6" height="304.45" fill="#f9c000"/>
<rect x="1525.03" y="551.96" width="3.6" height="263.34" fill="#64a1dc"/>
<rect x="1529.53" y="528.95" width="3.6" height="286.35" fill="#e37413"/>
<rect x="1534.03" y="521.96" width="3.6" height="293.34" fill="#ababab"/>
<rect x="1538.53" y="521.96" width="3.6" height="293.34" fill="#f9c000"/>
<rect x="1549.70" y="562.82" width="3.6" height="252.48" fill="#64a1dc"/>
<rect x="1554.20" y="542.57" width="3.6" height="272.73" fill="#e37413"/>
<rect x="1558.70" y="535.76" width="3.6" height="279.54" fill="#ababab"/>
<rect x="1563.20" y="534.29" width="3.6" height="281.01" fill="#f9c000"/>
<rect x="1574.36" y="565.58" width="3.6" height="249.72" fill="#64a1dc"/>
<rect x="1578.86" y="545.89" width="3.6" height="269.41" fill="#e37413"/>
<rect x="1583.36" y="539.44" width="3.6" height="275.86" fill="#ababab"/>
<rect x="1587.86" y="536.68" width="3.6" height="278.62" fill="#f9c000"/>
<rect x="1599.03" y="579.38" width="3.6" height="235.92" fill="#64a1dc"/>
<rect x="1603.53" y="563.74" width="3.6" height="251.56" fill="#e37413"/>
<rect x="1608.03" y="554.53" width="3.6" height="260.77" fill="#ababab"/>
<rect x="1612.53" y="553.25" width="3.6" height="262.05" fill="#f9c000"/>
<rect x="1623.70" y="573.86" width="3.6" height="241.44" fill="#64a1dc"/>
<rect x="1628.20" y="554.53" width="3.6" height="260.77" fill="#e37413"/>
<rect x="1632.70" y="549.93" width="3.6" height="265.37" fill="#ababab"/>
<rect x="1637.20" y="549.93" width="3.6" height="265.37" fill="#f9c000"/>
<rect x="1648.37" y="584.16" width="3.6" height="231.14" fill="#64a1dc"/>
<rect x="1652.87" y="561.16" width="3.6" height="254.14" fill="#e37413"/>
<rect x="1657.37" y="558.21" width="3.6" height="257.09" fill="#ababab"/>
<rect x="1661.87" y="557.48" width="3.6" height="257.82" fill="#f9c000"/>
<rect x="1673.04" y="586.37" width="3.6" height="228.93" fill="#64a1dc"/>
<rect x="1677.54" y="563.37" width="3.6" height="251.93" fill="#e37413"/>
<rect x="1682.04" y="555.64" width="3.6" height="259.66" fill="#ababab"/>
<rect x="1686.54" y="551.41" width="3.6" height="263.89" fill="#f9c000"/>
<rect x="1697.70" y="601.46" width="3.6" height="213.84" fill="#64a1dc"/>
<rect x="1702.20" y="571.65" width="3.6" height="243.65" fill="#e37413"/>
<rect x="1706.70" y="564.84" width="3.6" height="250.46" fill="#ababab"/>
<rect x="1711.20" y="562.45" width="3.6" height="252.85" fill="#f9c000"/>
<rect x="1722.37" y="625.38" width="3.6" height="189.92" fill="#64a1dc"/>
<rect x="1726.87" y="598.88" width="3.6" height="216.42" fill="#e37413"/>
<rect x="1731.37" y="588.21" width="3.6" height="227.09" fill="#ababab"/>
<rect x="1735.87" y="584.53" width="3.6" height="230.77" fill="#f9c000"/>
<rect x="1747.04" y="664.03" width="3.6" height="151.27" fill="#64a1dc"/>
<rect x="1751.54" y="641.03" width="3.6" height="174.27" fill="#e37413"/>
<rect x="1756.04" y="626.30" width="3.6" height="189.00" fill="#ababab"/>
<rect x="1760.54" y="618.58" width="3.6" height="196.72" fill="#f9c000"/>
<path d="M1287.30 492.5v5M1311.94 492.5v5M1336.59 492.5v5M1361.24 492.5v5M1385.88 492.5v5M1410.53 492.5v5M1435.18 492.5v5M1459.83 492.5v5M1484.47 492.5v5M1509.12 492.5v5M1533.77 492.5v5M1558.41 492.5v5M1583.06 492.5v5M1607.71 492.5v5M1632.35 492.5v5M1657.00 492.5v5M1681.65 492.5v5M1706.30 492.5v5M1730.94 492.5v5M1755.59 492.5v5M1262.6 779.43h5M1779.8999999999999 779.43h-5M1262.6 743.57h5M1779.8999999999999 743.57h-5M1262.6 707.70h5M1779.8999999999999 707.70h-5M1262.6 671.83h5M1779.8999999999999 671.83h-5M1262.6 635.97h5M1779.8999999999999 635.97h-5M1262.6 600.10h5M1779.8999999999999 600.10h-5M1262.6 564.23h5M1779.8999999999999 564.23h-5M1262.6 528.37h5M1779.8999999999999 528.37h-5" stroke="#666666" stroke-width="1.2" fill="none"/>
<path d="M1287.30 815.3v-5M1311.94 815.3v-5M1336.59 815.3v-5M1361.24 815.3v-5M1385.88 815.3v-5M1410.53 815.3v-5M1435.18 815.3v-5M1459.83 815.3v-5M1484.47 815.3v-5M1509.12 815.3v-5M1533.77 815.3v-5M1558.41 815.3v-5M1583.06 815.3v-5M1607.71 815.3v-5M1632.35 815.3v-5M1657.00 815.3v-5M1681.65 815.3v-5M1706.30 815.3v-5M1730.94 815.3v-5M1755.59 815.3v-5" stroke="#484848" stroke-width="1.5" fill="none"/>
<path d="M1262.1 492.5H1780.3999999999999M1262.1 815.3H1780.3999999999999" stroke="#a5a5a5" stroke-width="1.7" fill="none"/>
<path d="M1262.6 492.5V815.3M1779.90 492.5V815.3" stroke="#999999" stroke-width="1.3" fill="none"/>
<g font-size="12.4" fill="#4a4a4a" stroke="#4a4a4a" stroke-width="0.2"><text x="1263.00" y="831.70" text-anchor="middle">0</text><text x="1287.63" y="831.70" text-anchor="middle">1</text><text x="1312.27" y="831.70" text-anchor="middle">5</text><text x="1336.90" y="831.70" text-anchor="middle">10</text><text x="1361.53" y="831.70" text-anchor="middle">15</text><text x="1386.17" y="831.70" text-anchor="middle">20</text><text x="1410.80" y="831.70" text-anchor="middle">25</text><text x="1435.43" y="831.70" text-anchor="middle">30</text><text x="1460.07" y="831.70" text-anchor="middle">40</text><text x="1484.70" y="831.70" text-anchor="middle">50</text><text x="1509.33" y="831.70" text-anchor="middle">60</text><text x="1533.97" y="831.70" text-anchor="middle">70</text><text x="1558.60" y="831.70" text-anchor="middle">80</text><text x="1583.23" y="831.70" text-anchor="middle">90</text><text x="1607.87" y="831.70" text-anchor="middle">100</text><text x="1632.50" y="831.70" text-anchor="middle">110</text><text x="1657.13" y="831.70" text-anchor="middle">120</text><text x="1681.77" y="831.70" text-anchor="middle">130</text><text x="1706.40" y="831.70" text-anchor="middle">150</text><text x="1731.03" y="831.70" text-anchor="middle">200</text><text x="1755.67" y="831.70" text-anchor="middle">300</text><text x="1258.10" y="820.00" text-anchor="end">0</text><text x="1258.10" y="784.13" text-anchor="end">0.1</text><text x="1258.10" y="748.27" text-anchor="end">0.2</text><text x="1258.10" y="712.40" text-anchor="end">0.3</text><text x="1258.10" y="676.53" text-anchor="end">0.4</text><text x="1258.10" y="640.67" text-anchor="end">0.5</text><text x="1258.10" y="604.80" text-anchor="end">0.6</text><text x="1258.10" y="568.93" text-anchor="end">0.7</text><text x="1258.10" y="533.07" text-anchor="end">0.8</text><text x="1258.10" y="497.20" text-anchor="end">0.9</text></g>
<text x="1522.25" y="482.00" text-anchor="middle" font-size="20" fill="#222" stroke="#222" stroke-width="0.2">Pavia University(T=10,FImage:MNF)</text>
<text x="1521.25" y="855.70" text-anchor="middle" font-size="20" fill="#404040" stroke="#404040" stroke-width="0.2">Number of Superpixels</text>
<text transform="translate(1232.40 653.20) rotate(-90)" text-anchor="middle" font-size="20" fill="#404040" stroke="#404040" stroke-width="0.2">OA/%</text>
<g fill="#000"><text x="1469.78" y="904.30" font-family="Liberation Serif, serif" font-size="43" stroke="#fff" stroke-width="0.7">(</text><text x="1491.30" y="903.70" text-anchor="middle" font-family="Liberation Serif, serif" font-weight="bold" font-size="43">f</text><text x="1498.23" y="904.30" font-family="Liberation Serif, serif" font-size="43" stroke="#fff" stroke-width="0.7">)</text></g>
</svg>
</body></html>
